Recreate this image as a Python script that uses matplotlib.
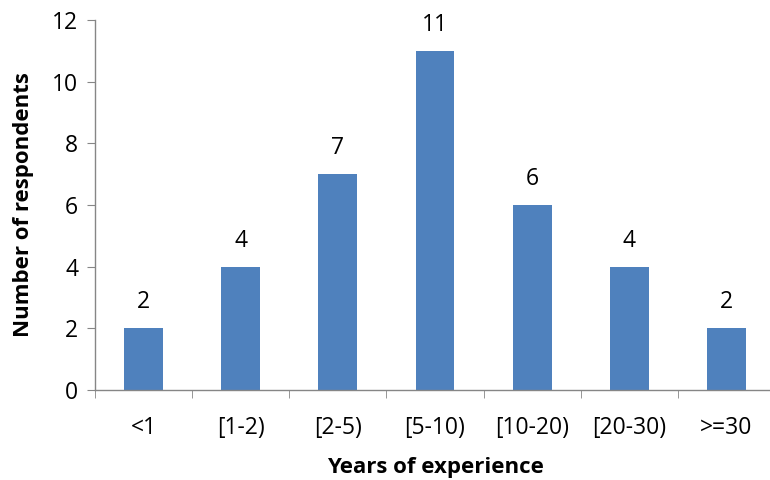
import matplotlib
matplotlib.use("Agg")
import matplotlib.pyplot as plt
import numpy as np

categories = ["<1", "[1-2)", "[2-5)", "[5-10)", "[10-20)", "[20-30)", ">=30"]
counts = [2, 4, 7, 11, 6, 4, 2]
y_ticks = [0, 2, 4, 6, 8, 10, 12]

plt.rcParams['font.family'] = ['Open Sans', 'DejaVu Sans']

fig = plt.figure(figsize=(7.7, 4.8), dpi=100)
ax = fig.add_axes([95/770, 1-390/480, 680/770, 370/480])

x = np.arange(len(categories))
bars = ax.bar(x, counts, width=0.4, color="#4F81BD", zorder=2)
for xi, v in zip(x, counts):
    ax.text(xi, v + 0.45, str(v), ha="center", va="bottom", fontsize=16.5, color="black")

ax.set_xlim(-0.5, len(categories) - 0.5)
ax.set_ylim(0, 12)
ax.set_yticks(y_ticks)
ax.set_xticks(x)
ax.set_xticklabels(categories)
ax.set_xticks(np.arange(len(categories) + 1) - 0.5, minor=True)
ax.tick_params(axis="x", which="major", length=0, pad=19, labelsize=16.5)
ax.tick_params(axis="x", which="minor", length=6, color="#868686", direction="out")
ax.tick_params(axis="y", length=6, color="#868686", direction="out", labelsize=16.5, pad=6)

for s in ["top", "right"]:
    ax.spines[s].set_visible(False)
for s in ["left", "bottom"]:
    ax.spines[s].set_color("#868686")
    ax.spines[s].set_linewidth(1.0)

ax.set_ylabel("Number of respondents", fontsize=16, fontweight="bold", labelpad=13)
ax.set_xlabel("Years of experience", fontsize=16, fontweight="bold", labelpad=12)

fig.savefig("out.png", dpi=100)
